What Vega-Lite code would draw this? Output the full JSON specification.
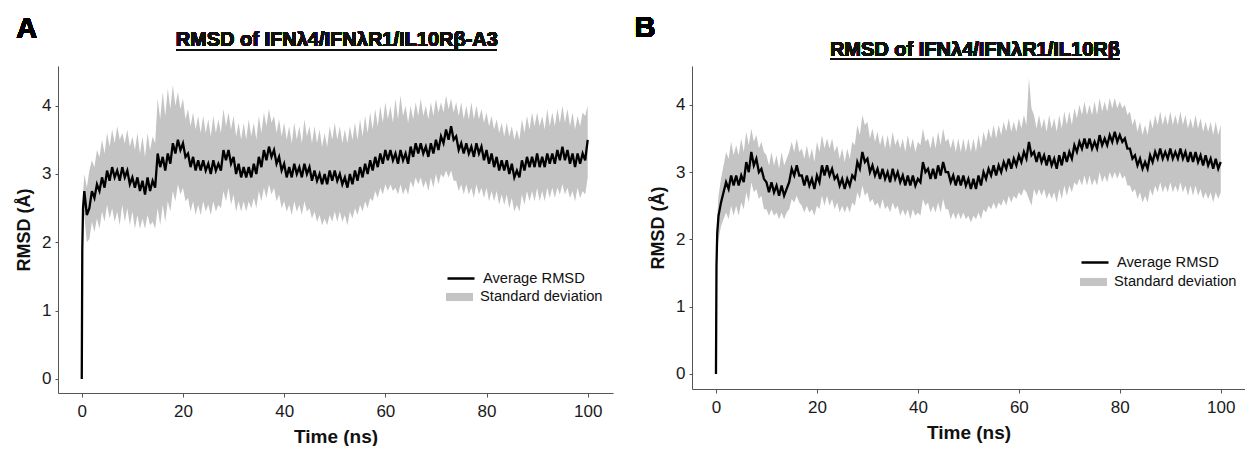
{
"$schema": "https://vega.github.io/schema/vega-lite/v6.json",
"padding": {"left": 15, "top": 14, "right": 0, "bottom": 0},
"spacing": 21,
"config": {
 "font": "Liberation Sans",
 "view": {"stroke": null},
 "axis": {"grid": false, "domainColor": "#555555", "tickColor": "#555555", "labelFont": "Liberation Sans", "labelFontSize": 17, "labelColor": "#1a1a1a", "titleFont": "Liberation Sans", "titleFontWeight": "bold", "titleColor": "#111111"},
 "legend": {"labelFont": "Liberation Sans", "labelFontSize": 14.7, "labelColor": "#111111", "padding": 0, "offset": 0, "labelOffset": 7, "symbolSize": 729}
},
"datasets": {
"A": [
{"t":0,"m":0,"lo":0,"hi":0},{"t":0.1,"m":1.9,"lo":1.8,"hi":2.0},{"t":0.25,"m":2.5,"lo":2.3,"hi":2.7},{"t":0.5,"m":2.75,"lo":2.4,"hi":3.0},
{"t":1,"m":2.4,"lo":2.0,"hi":2.8},{"t":1.5,"m":2.5,"lo":2.05,"hi":3.05},{"t":2,"m":2.75,"lo":2.3,"hi":3.2},{"t":2.5,"m":2.65,"lo":2.15,"hi":3.1},
{"t":3,"m":2.85,"lo":2.35,"hi":3.35},{"t":3.5,"m":2.75,"lo":2.2,"hi":3.25},{"t":4,"m":2.95,"lo":2.45,"hi":3.5},{"t":4.5,"m":2.8,"lo":2.3,"hi":3.3},
{"t":5,"m":3.05,"lo":2.55,"hi":3.6},{"t":5.5,"m":2.9,"lo":2.35,"hi":3.4},{"t":6,"m":3.1,"lo":2.5,"hi":3.65},{"t":6.5,"m":2.95,"lo":2.3,"hi":3.45},
{"t":7,"m":3.05,"lo":2.45,"hi":3.7},{"t":7.5,"m":2.9,"lo":2.25,"hi":3.5},{"t":8,"m":3.1,"lo":2.55,"hi":3.6},{"t":8.5,"m":2.95,"lo":2.3,"hi":3.45},
{"t":9,"m":3.05,"lo":2.5,"hi":3.65},{"t":9.5,"m":2.85,"lo":2.25,"hi":3.4},{"t":10,"m":2.95,"lo":2.45,"hi":3.55},{"t":10.5,"m":2.8,"lo":2.2,"hi":3.35},
{"t":11,"m":2.95,"lo":2.4,"hi":3.6},{"t":11.5,"m":2.75,"lo":2.2,"hi":3.3},{"t":12,"m":2.9,"lo":2.35,"hi":3.55},{"t":12.5,"m":2.7,"lo":2.2,"hi":3.25},
{"t":13,"m":2.95,"lo":2.4,"hi":3.6},{"t":13.5,"m":2.75,"lo":2.25,"hi":3.35},{"t":14,"m":2.9,"lo":2.3,"hi":3.55},{"t":14.5,"m":2.8,"lo":2.2,"hi":3.45},
{"t":15,"m":3.3,"lo":2.5,"hi":4.1},{"t":15.5,"m":3.1,"lo":2.25,"hi":3.8},{"t":16,"m":3.25,"lo":2.55,"hi":4.2},{"t":16.5,"m":3.05,"lo":2.3,"hi":3.85},
{"t":17,"m":3.3,"lo":2.6,"hi":4.25},{"t":17.5,"m":3.15,"lo":2.45,"hi":3.95},{"t":18,"m":3.45,"lo":2.75,"hi":4.3},{"t":18.5,"m":3.3,"lo":2.6,"hi":4.0},
{"t":19,"m":3.5,"lo":2.85,"hi":4.2},{"t":19.5,"m":3.35,"lo":2.7,"hi":3.95},{"t":20,"m":3.45,"lo":2.8,"hi":4.1},{"t":20.5,"m":3.25,"lo":2.6,"hi":3.8},
{"t":21,"m":3.3,"lo":2.65,"hi":3.95},{"t":21.5,"m":3.1,"lo":2.45,"hi":3.7},{"t":22,"m":3.25,"lo":2.6,"hi":3.9},{"t":22.5,"m":3.05,"lo":2.4,"hi":3.65},
{"t":23,"m":3.2,"lo":2.55,"hi":3.85},{"t":23.5,"m":3.05,"lo":2.4,"hi":3.6},{"t":24,"m":3.2,"lo":2.6,"hi":3.85},{"t":24.5,"m":3.05,"lo":2.45,"hi":3.6},
{"t":25,"m":3.15,"lo":2.55,"hi":3.8},{"t":25.5,"m":3.0,"lo":2.4,"hi":3.55},{"t":26,"m":3.2,"lo":2.6,"hi":3.85},{"t":26.5,"m":3.05,"lo":2.45,"hi":3.6},
{"t":27,"m":3.15,"lo":2.55,"hi":3.8},{"t":27.5,"m":3.05,"lo":2.5,"hi":3.6},{"t":28,"m":3.35,"lo":2.75,"hi":3.95},{"t":28.5,"m":3.2,"lo":2.6,"hi":3.7},
{"t":29,"m":3.35,"lo":2.8,"hi":3.9},{"t":29.5,"m":3.15,"lo":2.55,"hi":3.65},{"t":30,"m":3.25,"lo":2.7,"hi":3.85},{"t":30.5,"m":3.0,"lo":2.45,"hi":3.55},
{"t":31,"m":3.15,"lo":2.6,"hi":3.75},{"t":31.5,"m":2.95,"lo":2.45,"hi":3.5},{"t":32,"m":3.1,"lo":2.6,"hi":3.75},{"t":32.5,"m":2.95,"lo":2.45,"hi":3.5},
{"t":33,"m":3.1,"lo":2.6,"hi":3.8},{"t":33.5,"m":2.95,"lo":2.5,"hi":3.55},{"t":34,"m":3.15,"lo":2.65,"hi":3.75},{"t":34.5,"m":3.0,"lo":2.5,"hi":3.5},
{"t":35,"m":3.25,"lo":2.75,"hi":3.85},{"t":35.5,"m":3.1,"lo":2.6,"hi":3.6},{"t":36,"m":3.35,"lo":2.8,"hi":3.9},{"t":36.5,"m":3.2,"lo":2.65,"hi":3.7},
{"t":37,"m":3.4,"lo":2.85,"hi":3.95},{"t":37.5,"m":3.25,"lo":2.7,"hi":3.75},{"t":38,"m":3.35,"lo":2.8,"hi":3.85},{"t":38.5,"m":3.15,"lo":2.6,"hi":3.6},
{"t":39,"m":3.25,"lo":2.7,"hi":3.8},{"t":39.5,"m":3.05,"lo":2.5,"hi":3.55},{"t":40,"m":3.15,"lo":2.6,"hi":3.75},{"t":40.5,"m":2.95,"lo":2.45,"hi":3.5},
{"t":41,"m":3.1,"lo":2.55,"hi":3.7},{"t":41.5,"m":2.95,"lo":2.4,"hi":3.45},{"t":42,"m":3.15,"lo":2.6,"hi":3.75},{"t":42.5,"m":3.0,"lo":2.45,"hi":3.5},
{"t":43,"m":3.1,"lo":2.55,"hi":3.7},{"t":43.5,"m":2.95,"lo":2.4,"hi":3.45},{"t":44,"m":3.15,"lo":2.6,"hi":3.8},{"t":44.5,"m":3.0,"lo":2.45,"hi":3.55},
{"t":45,"m":3.1,"lo":2.5,"hi":3.7},{"t":45.5,"m":2.9,"lo":2.35,"hi":3.45},{"t":46,"m":3.05,"lo":2.45,"hi":3.7},{"t":46.5,"m":2.9,"lo":2.3,"hi":3.45},
{"t":47,"m":3.0,"lo":2.4,"hi":3.65},{"t":47.5,"m":2.85,"lo":2.25,"hi":3.4},{"t":48,"m":3.0,"lo":2.35,"hi":3.6},{"t":48.5,"m":2.85,"lo":2.25,"hi":3.4},
{"t":49,"m":3.05,"lo":2.4,"hi":3.7},{"t":49.5,"m":2.9,"lo":2.3,"hi":3.5},{"t":50,"m":3.05,"lo":2.45,"hi":3.75},{"t":50.5,"m":2.9,"lo":2.3,"hi":3.5},
{"t":51,"m":3.0,"lo":2.45,"hi":3.7},{"t":51.5,"m":2.85,"lo":2.3,"hi":3.45},{"t":52,"m":2.95,"lo":2.4,"hi":3.65},{"t":52.5,"m":2.8,"lo":2.25,"hi":3.45},
{"t":53,"m":3.0,"lo":2.45,"hi":3.7},{"t":53.5,"m":2.85,"lo":2.35,"hi":3.5},{"t":54,"m":3.05,"lo":2.5,"hi":3.75},{"t":54.5,"m":2.9,"lo":2.4,"hi":3.5},
{"t":55,"m":3.1,"lo":2.55,"hi":3.8},{"t":55.5,"m":2.95,"lo":2.45,"hi":3.55},{"t":56,"m":3.15,"lo":2.6,"hi":3.85},{"t":56.5,"m":3.0,"lo":2.5,"hi":3.6},
{"t":57,"m":3.2,"lo":2.65,"hi":3.9},{"t":57.5,"m":3.05,"lo":2.6,"hi":3.65},{"t":58,"m":3.25,"lo":2.75,"hi":3.95},{"t":58.5,"m":3.1,"lo":2.65,"hi":3.7},
{"t":59,"m":3.3,"lo":2.8,"hi":4.0},{"t":59.5,"m":3.15,"lo":2.7,"hi":3.75},{"t":60,"m":3.35,"lo":2.85,"hi":4.05},{"t":60.5,"m":3.2,"lo":2.75,"hi":3.8},
{"t":61,"m":3.35,"lo":2.85,"hi":4.0},{"t":61.5,"m":3.2,"lo":2.75,"hi":3.75},{"t":62,"m":3.3,"lo":2.8,"hi":4.1},{"t":62.5,"m":3.15,"lo":2.7,"hi":3.8},
{"t":63,"m":3.35,"lo":2.85,"hi":4.15},{"t":63.5,"m":3.2,"lo":2.7,"hi":3.85},{"t":64,"m":3.3,"lo":2.8,"hi":4.0},{"t":64.5,"m":3.15,"lo":2.7,"hi":3.75},
{"t":65,"m":3.4,"lo":2.9,"hi":4.0},{"t":65.5,"m":3.25,"lo":2.8,"hi":3.8},{"t":66,"m":3.45,"lo":2.95,"hi":4.05},{"t":66.5,"m":3.3,"lo":2.85,"hi":3.85},
{"t":67,"m":3.45,"lo":2.95,"hi":4.1},{"t":67.5,"m":3.3,"lo":2.8,"hi":3.85},{"t":68,"m":3.4,"lo":2.9,"hi":4.0},{"t":68.5,"m":3.25,"lo":2.75,"hi":3.8},
{"t":69,"m":3.45,"lo":2.95,"hi":4.05},{"t":69.5,"m":3.3,"lo":2.8,"hi":3.85},{"t":70,"m":3.5,"lo":3.0,"hi":4.1},{"t":70.5,"m":3.35,"lo":2.85,"hi":3.9},
{"t":71,"m":3.55,"lo":3.0,"hi":4.05},{"t":71.5,"m":3.45,"lo":2.95,"hi":3.9},{"t":72,"m":3.65,"lo":3.05,"hi":4.15},{"t":72.5,"m":3.5,"lo":2.95,"hi":3.95},
{"t":73,"m":3.7,"lo":3.05,"hi":4.1},{"t":73.5,"m":3.5,"lo":2.9,"hi":3.9},{"t":74,"m":3.55,"lo":2.9,"hi":4.05},{"t":74.5,"m":3.35,"lo":2.75,"hi":3.85},
{"t":75,"m":3.45,"lo":2.85,"hi":4.05},{"t":75.5,"m":3.3,"lo":2.7,"hi":3.8},{"t":76,"m":3.45,"lo":2.85,"hi":4.0},{"t":76.5,"m":3.3,"lo":2.7,"hi":3.8},
{"t":77,"m":3.4,"lo":2.8,"hi":4.05},{"t":77.5,"m":3.25,"lo":2.65,"hi":3.8},{"t":78,"m":3.45,"lo":2.85,"hi":4.0},{"t":78.5,"m":3.3,"lo":2.7,"hi":3.8},
{"t":79,"m":3.4,"lo":2.8,"hi":3.95},{"t":79.5,"m":3.2,"lo":2.65,"hi":3.75},{"t":80,"m":3.35,"lo":2.8,"hi":3.9},{"t":80.5,"m":3.15,"lo":2.6,"hi":3.7},
{"t":81,"m":3.3,"lo":2.75,"hi":3.85},{"t":81.5,"m":3.1,"lo":2.6,"hi":3.65},{"t":82,"m":3.25,"lo":2.75,"hi":3.8},{"t":82.5,"m":3.05,"lo":2.55,"hi":3.6},
{"t":83,"m":3.2,"lo":2.7,"hi":3.75},{"t":83.5,"m":3.05,"lo":2.55,"hi":3.55},{"t":84,"m":3.2,"lo":2.7,"hi":3.75},{"t":84.5,"m":3.0,"lo":2.5,"hi":3.55},
{"t":85,"m":3.15,"lo":2.65,"hi":3.7},{"t":85.5,"m":2.95,"lo":2.45,"hi":3.5},{"t":86,"m":3.05,"lo":2.55,"hi":3.65},{"t":86.5,"m":2.95,"lo":2.45,"hi":3.5},
{"t":87,"m":3.2,"lo":2.7,"hi":3.8},{"t":87.5,"m":3.05,"lo":2.55,"hi":3.6},{"t":88,"m":3.25,"lo":2.75,"hi":3.85},{"t":88.5,"m":3.1,"lo":2.6,"hi":3.65},
{"t":89,"m":3.25,"lo":2.75,"hi":3.9},{"t":89.5,"m":3.1,"lo":2.6,"hi":3.7},{"t":90,"m":3.3,"lo":2.8,"hi":3.9},{"t":90.5,"m":3.1,"lo":2.6,"hi":3.7},
{"t":91,"m":3.25,"lo":2.75,"hi":3.85},{"t":91.5,"m":3.1,"lo":2.6,"hi":3.65},{"t":92,"m":3.3,"lo":2.8,"hi":3.95},{"t":92.5,"m":3.15,"lo":2.65,"hi":3.7},
{"t":93,"m":3.3,"lo":2.8,"hi":3.9},{"t":93.5,"m":3.15,"lo":2.65,"hi":3.7},{"t":94,"m":3.35,"lo":2.8,"hi":3.95},{"t":94.5,"m":3.2,"lo":2.7,"hi":3.75},
{"t":95,"m":3.4,"lo":2.85,"hi":4.0},{"t":95.5,"m":3.2,"lo":2.7,"hi":3.75},{"t":96,"m":3.35,"lo":2.8,"hi":3.95},{"t":96.5,"m":3.15,"lo":2.65,"hi":3.7},
{"t":97,"m":3.3,"lo":2.75,"hi":3.9},{"t":97.5,"m":3.1,"lo":2.6,"hi":3.65},{"t":98,"m":3.3,"lo":2.8,"hi":3.85},{"t":98.5,"m":3.15,"lo":2.65,"hi":3.7},
{"t":99,"m":3.3,"lo":2.75,"hi":3.9},{"t":99.5,"m":3.2,"lo":2.7,"hi":3.85},{"t":100,"m":3.5,"lo":2.95,"hi":4.0}
],
"B": [
{"t":0,"m":0,"lo":0,"hi":0},{"t":0.1,"m":1.6,"lo":1.5,"hi":1.7},{"t":0.25,"m":2.1,"lo":1.85,"hi":2.35},{"t":0.5,"m":2.35,"lo":2.0,"hi":2.65},
{"t":1,"m":2.55,"lo":2.2,"hi":2.9},{"t":1.5,"m":2.7,"lo":2.3,"hi":3.1},{"t":2,"m":2.85,"lo":2.4,"hi":3.3},{"t":2.5,"m":2.75,"lo":2.3,"hi":3.2},
{"t":3,"m":2.95,"lo":2.5,"hi":3.45},{"t":3.5,"m":2.8,"lo":2.35,"hi":3.25},{"t":4,"m":2.95,"lo":2.5,"hi":3.4},{"t":4.5,"m":2.8,"lo":2.35,"hi":3.25},
{"t":5,"m":2.95,"lo":2.55,"hi":3.5},{"t":5.5,"m":2.85,"lo":2.45,"hi":3.3},{"t":6,"m":3.15,"lo":2.7,"hi":3.6},{"t":6.5,"m":3.0,"lo":2.55,"hi":3.4},
{"t":7,"m":3.3,"lo":2.85,"hi":3.65},{"t":7.5,"m":3.1,"lo":2.7,"hi":3.45},{"t":8,"m":3.2,"lo":2.75,"hi":3.55},{"t":8.5,"m":3.0,"lo":2.6,"hi":3.35},
{"t":9,"m":3.05,"lo":2.65,"hi":3.45},{"t":9.5,"m":2.9,"lo":2.45,"hi":3.3},{"t":10,"m":2.85,"lo":2.45,"hi":3.25},{"t":10.5,"m":2.7,"lo":2.35,"hi":3.1},
{"t":11,"m":2.85,"lo":2.45,"hi":3.3},{"t":11.5,"m":2.7,"lo":2.35,"hi":3.1},{"t":12,"m":2.8,"lo":2.4,"hi":3.25},{"t":12.5,"m":2.65,"lo":2.3,"hi":3.05},
{"t":13,"m":2.8,"lo":2.4,"hi":3.3},{"t":13.5,"m":2.65,"lo":2.3,"hi":3.1},{"t":14,"m":2.75,"lo":2.4,"hi":3.2},{"t":14.5,"m":2.85,"lo":2.45,"hi":3.3},
{"t":15,"m":3.05,"lo":2.6,"hi":3.45},{"t":15.5,"m":2.95,"lo":2.55,"hi":3.3},{"t":16,"m":3.1,"lo":2.65,"hi":3.5},{"t":16.5,"m":2.95,"lo":2.55,"hi":3.3},
{"t":17,"m":2.95,"lo":2.5,"hi":3.35},{"t":17.5,"m":2.8,"lo":2.4,"hi":3.2},{"t":18,"m":2.95,"lo":2.5,"hi":3.4},{"t":18.5,"m":2.8,"lo":2.4,"hi":3.2},
{"t":19,"m":2.9,"lo":2.45,"hi":3.35},{"t":19.5,"m":2.75,"lo":2.35,"hi":3.15},{"t":20,"m":2.95,"lo":2.5,"hi":3.45},{"t":20.5,"m":2.85,"lo":2.45,"hi":3.3},
{"t":21,"m":3.1,"lo":2.65,"hi":3.55},{"t":21.5,"m":2.95,"lo":2.5,"hi":3.35},{"t":22,"m":3.1,"lo":2.65,"hi":3.5},{"t":22.5,"m":2.95,"lo":2.5,"hi":3.35},
{"t":23,"m":3.05,"lo":2.6,"hi":3.5},{"t":23.5,"m":2.9,"lo":2.45,"hi":3.3},{"t":24,"m":2.95,"lo":2.55,"hi":3.4},{"t":24.5,"m":2.8,"lo":2.4,"hi":3.2},
{"t":25,"m":2.9,"lo":2.5,"hi":3.35},{"t":25.5,"m":2.75,"lo":2.4,"hi":3.15},{"t":26,"m":2.9,"lo":2.5,"hi":3.35},{"t":26.5,"m":2.8,"lo":2.4,"hi":3.2},
{"t":27,"m":2.95,"lo":2.55,"hi":3.45},{"t":27.5,"m":2.9,"lo":2.5,"hi":3.4},{"t":28,"m":3.15,"lo":2.7,"hi":3.7},{"t":28.5,"m":3.05,"lo":2.6,"hi":3.55},
{"t":29,"m":3.3,"lo":2.8,"hi":3.85},{"t":29.5,"m":3.15,"lo":2.65,"hi":3.7},{"t":30,"m":3.2,"lo":2.7,"hi":3.75},{"t":30.5,"m":3.0,"lo":2.55,"hi":3.5},
{"t":31,"m":3.1,"lo":2.6,"hi":3.65},{"t":31.5,"m":2.95,"lo":2.5,"hi":3.45},{"t":32,"m":3.05,"lo":2.55,"hi":3.6},{"t":32.5,"m":2.9,"lo":2.45,"hi":3.4},
{"t":33,"m":3.05,"lo":2.6,"hi":3.55},{"t":33.5,"m":2.9,"lo":2.45,"hi":3.35},{"t":34,"m":3.0,"lo":2.5,"hi":3.55},{"t":34.5,"m":2.85,"lo":2.4,"hi":3.35},
{"t":35,"m":3.05,"lo":2.55,"hi":3.6},{"t":35.5,"m":2.9,"lo":2.45,"hi":3.4},{"t":36,"m":3.0,"lo":2.5,"hi":3.5},{"t":36.5,"m":2.85,"lo":2.35,"hi":3.35},
{"t":37,"m":2.95,"lo":2.45,"hi":3.5},{"t":37.5,"m":2.8,"lo":2.35,"hi":3.3},{"t":38,"m":2.95,"lo":2.45,"hi":3.55},{"t":38.5,"m":2.8,"lo":2.3,"hi":3.35},
{"t":39,"m":2.95,"lo":2.45,"hi":3.5},{"t":39.5,"m":2.8,"lo":2.35,"hi":3.3},{"t":40,"m":2.9,"lo":2.4,"hi":3.45},{"t":40.5,"m":2.85,"lo":2.35,"hi":3.4},
{"t":41,"m":3.15,"lo":2.6,"hi":3.65},{"t":41.5,"m":3.0,"lo":2.5,"hi":3.45},{"t":42,"m":3.05,"lo":2.55,"hi":3.5},{"t":42.5,"m":2.9,"lo":2.4,"hi":3.35},
{"t":43,"m":3.05,"lo":2.5,"hi":3.55},{"t":43.5,"m":2.9,"lo":2.4,"hi":3.35},{"t":44,"m":3.1,"lo":2.55,"hi":3.6},{"t":44.5,"m":2.95,"lo":2.4,"hi":3.4},
{"t":45,"m":3.15,"lo":2.6,"hi":3.65},{"t":45.5,"m":3.0,"lo":2.45,"hi":3.45},{"t":46,"m":3.0,"lo":2.45,"hi":3.5},{"t":46.5,"m":2.85,"lo":2.3,"hi":3.35},
{"t":47,"m":2.95,"lo":2.4,"hi":3.5},{"t":47.5,"m":2.8,"lo":2.3,"hi":3.3},{"t":48,"m":2.95,"lo":2.4,"hi":3.5},{"t":48.5,"m":2.8,"lo":2.3,"hi":3.3},
{"t":49,"m":2.95,"lo":2.4,"hi":3.5},{"t":49.5,"m":2.8,"lo":2.3,"hi":3.3},{"t":50,"m":2.9,"lo":2.35,"hi":3.5},{"t":50.5,"m":2.75,"lo":2.25,"hi":3.3},
{"t":51,"m":2.9,"lo":2.35,"hi":3.5},{"t":51.5,"m":2.75,"lo":2.3,"hi":3.3},{"t":52,"m":2.95,"lo":2.4,"hi":3.55},{"t":52.5,"m":2.8,"lo":2.3,"hi":3.35},
{"t":53,"m":3.0,"lo":2.45,"hi":3.6},{"t":53.5,"m":2.9,"lo":2.4,"hi":3.45},{"t":54,"m":3.05,"lo":2.5,"hi":3.65},{"t":54.5,"m":2.95,"lo":2.45,"hi":3.5},
{"t":55,"m":3.1,"lo":2.55,"hi":3.7},{"t":55.5,"m":2.95,"lo":2.45,"hi":3.5},{"t":56,"m":3.1,"lo":2.55,"hi":3.7},{"t":56.5,"m":3.0,"lo":2.5,"hi":3.55},
{"t":57,"m":3.15,"lo":2.6,"hi":3.75},{"t":57.5,"m":3.05,"lo":2.5,"hi":3.6},{"t":58,"m":3.2,"lo":2.65,"hi":3.8},{"t":58.5,"m":3.05,"lo":2.55,"hi":3.6},
{"t":59,"m":3.2,"lo":2.65,"hi":3.75},{"t":59.5,"m":3.1,"lo":2.6,"hi":3.6},{"t":60,"m":3.25,"lo":2.7,"hi":3.8},{"t":60.5,"m":3.15,"lo":2.65,"hi":3.65},
{"t":61,"m":3.3,"lo":2.75,"hi":3.85},{"t":61.5,"m":3.2,"lo":2.7,"hi":3.7},{"t":62,"m":3.45,"lo":2.6,"hi":4.4},{"t":62.5,"m":3.25,"lo":2.5,"hi":3.95},
{"t":63,"m":3.3,"lo":2.75,"hi":3.85},{"t":63.5,"m":3.15,"lo":2.65,"hi":3.65},{"t":64,"m":3.3,"lo":2.75,"hi":3.85},{"t":64.5,"m":3.15,"lo":2.65,"hi":3.65},
{"t":65,"m":3.25,"lo":2.75,"hi":3.8},{"t":65.5,"m":3.1,"lo":2.6,"hi":3.6},{"t":66,"m":3.25,"lo":2.7,"hi":3.85},{"t":66.5,"m":3.1,"lo":2.6,"hi":3.65},
{"t":67,"m":3.2,"lo":2.7,"hi":3.8},{"t":67.5,"m":3.05,"lo":2.55,"hi":3.6},{"t":68,"m":3.25,"lo":2.75,"hi":3.85},{"t":68.5,"m":3.1,"lo":2.6,"hi":3.65},
{"t":69,"m":3.3,"lo":2.8,"hi":3.9},{"t":69.5,"m":3.15,"lo":2.65,"hi":3.7},{"t":70,"m":3.3,"lo":2.8,"hi":3.9},{"t":70.5,"m":3.2,"lo":2.7,"hi":3.7},
{"t":71,"m":3.4,"lo":2.85,"hi":3.95},{"t":71.5,"m":3.3,"lo":2.8,"hi":3.8},{"t":72,"m":3.45,"lo":2.9,"hi":4.0},{"t":72.5,"m":3.35,"lo":2.8,"hi":3.85},
{"t":73,"m":3.5,"lo":2.95,"hi":4.05},{"t":73.5,"m":3.35,"lo":2.8,"hi":3.85},{"t":74,"m":3.5,"lo":2.95,"hi":4.0},{"t":74.5,"m":3.35,"lo":2.8,"hi":3.85},
{"t":75,"m":3.45,"lo":2.9,"hi":4.05},{"t":75.5,"m":3.35,"lo":2.8,"hi":3.85},{"t":76,"m":3.55,"lo":3.0,"hi":4.1},{"t":76.5,"m":3.4,"lo":2.85,"hi":3.9},
{"t":77,"m":3.5,"lo":2.95,"hi":4.05},{"t":77.5,"m":3.4,"lo":2.85,"hi":3.9},{"t":78,"m":3.55,"lo":3.0,"hi":4.1},{"t":78.5,"m":3.45,"lo":2.9,"hi":3.95},
{"t":79,"m":3.6,"lo":3.0,"hi":4.1},{"t":79.5,"m":3.45,"lo":2.9,"hi":3.95},{"t":80,"m":3.55,"lo":3.0,"hi":4.05},{"t":80.5,"m":3.45,"lo":2.9,"hi":3.95},
{"t":81,"m":3.5,"lo":2.95,"hi":4.0},{"t":81.5,"m":3.35,"lo":2.8,"hi":3.85},{"t":82,"m":3.35,"lo":2.8,"hi":3.9},{"t":82.5,"m":3.2,"lo":2.7,"hi":3.7},
{"t":83,"m":3.25,"lo":2.75,"hi":3.8},{"t":83.5,"m":3.1,"lo":2.6,"hi":3.6},{"t":84,"m":3.2,"lo":2.7,"hi":3.75},{"t":84.5,"m":3.05,"lo":2.55,"hi":3.55},
{"t":85,"m":3.15,"lo":2.65,"hi":3.7},{"t":85.5,"m":3.05,"lo":2.55,"hi":3.55},{"t":86,"m":3.25,"lo":2.75,"hi":3.8},{"t":86.5,"m":3.15,"lo":2.65,"hi":3.65},
{"t":87,"m":3.3,"lo":2.8,"hi":3.85},{"t":87.5,"m":3.2,"lo":2.7,"hi":3.7},{"t":88,"m":3.35,"lo":2.85,"hi":3.9},{"t":88.5,"m":3.2,"lo":2.7,"hi":3.7},
{"t":89,"m":3.3,"lo":2.8,"hi":3.85},{"t":89.5,"m":3.2,"lo":2.7,"hi":3.7},{"t":90,"m":3.35,"lo":2.85,"hi":3.9},{"t":90.5,"m":3.2,"lo":2.7,"hi":3.7},
{"t":91,"m":3.3,"lo":2.8,"hi":3.85},{"t":91.5,"m":3.2,"lo":2.7,"hi":3.7},{"t":92,"m":3.35,"lo":2.85,"hi":3.9},{"t":92.5,"m":3.2,"lo":2.7,"hi":3.7},
{"t":93,"m":3.3,"lo":2.8,"hi":3.85},{"t":93.5,"m":3.15,"lo":2.65,"hi":3.65},{"t":94,"m":3.3,"lo":2.8,"hi":3.8},{"t":94.5,"m":3.15,"lo":2.65,"hi":3.65},
{"t":95,"m":3.3,"lo":2.8,"hi":3.85},{"t":95.5,"m":3.15,"lo":2.65,"hi":3.65},{"t":96,"m":3.25,"lo":2.75,"hi":3.8},{"t":96.5,"m":3.1,"lo":2.6,"hi":3.6},
{"t":97,"m":3.25,"lo":2.7,"hi":3.75},{"t":97.5,"m":3.1,"lo":2.6,"hi":3.6},{"t":98,"m":3.2,"lo":2.7,"hi":3.75},{"t":98.5,"m":3.05,"lo":2.55,"hi":3.55},
{"t":99,"m":3.2,"lo":2.7,"hi":3.75},{"t":99.5,"m":3.05,"lo":2.6,"hi":3.55},{"t":100,"m":3.15,"lo":2.7,"hi":3.7}
]
},
"resolve": {"scale": {"stroke": "independent", "fill": "independent"}},
"hconcat": [
{
 "width": 555, "height": 327,
 "data": {"name": "A"},
 "encoding": {
  "x": {"field": "t", "type": "quantitative", "scale": {"domain": [-4.7, 105], "nice": false, "zero": false},
        "axis": {"values": [0,20,40,60,80,100], "format": "d", "title": "Time (ns)", "titleFontSize": 19, "tickSize": 4, "labelPadding": 6, "titlePadding": 8}}
 },
 "layer": [
  {"mark": {"type": "area", "opacity": 1},
   "encoding": {"y": {"field": "lo", "type": "quantitative", "scale": {"domain": [-0.205, 4.58], "nice": false, "zero": false},
                      "axis": {"values": [0,1,2,3,4], "format": "d", "title": "RMSD (Å)", "titleFontSize": 18, "tickSize": 3, "labelPadding": 4, "titlePadding": 8}},
                "y2": {"field": "hi"},
                "fill": {"datum": "Standard deviation", "scale": {"range": ["#c4c4c4"]},
                         "legend": {"title": null, "orient": "none", "legendX": 388, "legendY": 217.5, "symbolType": "M-1,-0.3H1V0.3H-1Z", "symbolStrokeWidth": 0, "symbolOpacity": 1}}}},
  {"mark": {"type": "line", "strokeWidth": 2.3},
   "encoding": {"y": {"field": "m", "type": "quantitative"},
                "stroke": {"datum": "Average RMSD", "scale": {"range": ["#000000"]},
                           "legend": {"title": null, "orient": "none", "legendX": 388, "legendY": 197.5, "symbolType": "stroke", "symbolStrokeWidth": 2.5}}}},
  {"mark": {"type": "text", "text": "RMSD of IFNλ4/IFNλR1/IL10Rβ-A3", "font": "Liberation Sans", "fontSize": 20, "fontWeight": "bold", "align": "center", "baseline": "alphabetic", "color": "#111111"},
   "encoding": {"x": {"datum": 50.4}, "y": {"datum": 4.875}}},
  {"mark": {"type": "rule", "color": "#111111", "strokeWidth": 1.5},
   "encoding": {"x": {"datum": 18.8}, "x2": {"datum": 82.0}, "y": {"datum": 4.817}}},
  {"mark": {"type": "text", "text": "A", "font": "Liberation Sans", "fontSize": 29, "fontWeight": "bold", "align": "center", "baseline": "middle", "color": "#000000"},
   "encoding": {"x": {"datum": -10.9}, "y": {"datum": 5.12}}}
 ]
},
{
 "width": 553, "height": 323,
 "data": {"name": "B"},
 "encoding": {
  "x": {"field": "t", "type": "quantitative", "scale": {"domain": [-4.75, 104.8], "nice": false, "zero": false},
        "axis": {"values": [0,20,40,60,80,100], "format": "d", "title": "Time (ns)", "titleFontSize": 19, "tickSize": 4, "labelPadding": 6, "titlePadding": 8}}
 },
 "layer": [
  {"mark": {"type": "area", "opacity": 1},
   "encoding": {"y": {"field": "lo", "type": "quantitative", "scale": {"domain": [-0.223, 4.577], "nice": false, "zero": false},
                      "axis": {"values": [0,1,2,3,4], "format": "d", "title": "RMSD (Å)", "titleFontSize": 18, "tickSize": 3, "labelPadding": 4, "titlePadding": 8}},
                "y2": {"field": "hi"},
                "fill": {"datum": "Standard deviation", "scale": {"range": ["#c4c4c4"]},
                         "legend": {"title": null, "orient": "none", "legendX": 388, "legendY": 202.5, "symbolType": "M-1,-0.3H1V0.3H-1Z", "symbolStrokeWidth": 0, "symbolOpacity": 1}}}},
  {"mark": {"type": "line", "strokeWidth": 2.3},
   "encoding": {"y": {"field": "m", "type": "quantitative"},
                "stroke": {"datum": "Average RMSD", "scale": {"range": ["#000000"]},
                           "legend": {"title": null, "orient": "none", "legendX": 388, "legendY": 181.5, "symbolType": "stroke", "symbolStrokeWidth": 2.5}}}},
  {"mark": {"type": "text", "text": "RMSD of IFNλ4/IFNλR1/IL10Rβ", "font": "Liberation Sans", "fontSize": 20, "fontWeight": "bold", "align": "center", "baseline": "alphabetic", "color": "#111111"},
   "encoding": {"x": {"datum": 51.3}, "y": {"datum": 4.725}}},
  {"mark": {"type": "rule", "color": "#111111", "strokeWidth": 1.5},
   "encoding": {"x": {"datum": 22.6}, "x2": {"datum": 80.0}, "y": {"datum": 4.68}}},
  {"mark": {"type": "text", "text": "B", "font": "Liberation Sans", "fontSize": 29, "fontWeight": "bold", "align": "center", "baseline": "middle", "color": "#000000"},
   "encoding": {"x": {"datum": -14.06}, "y": {"datum": 5.14}}}
 ]
}
]
}
